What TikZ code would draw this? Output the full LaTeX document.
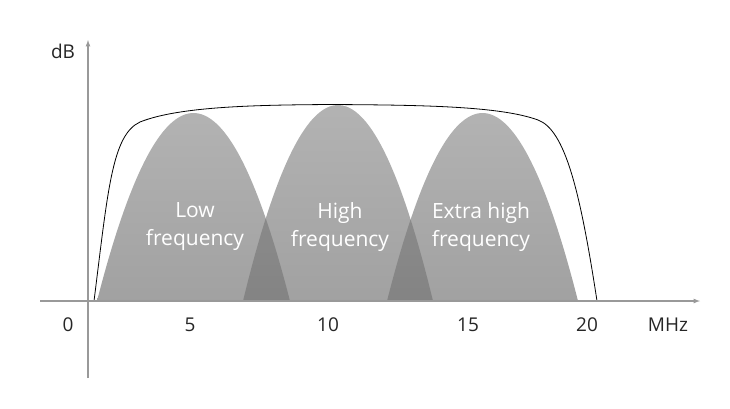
\documentclass[tikz,border=0pt]{standalone}
\usepackage{fontspec}
\setmainfont{Open Sans}
\begin{document}
\begin{tikzpicture}[x=1pt,y=-1pt,
  axis/.style={draw=gray!80,line width=1.2pt},
  lbl/.style={text=gray!30!black,font=\fontsize{19}{22}\selectfont},
  inlbl/.style={text=white,font=\fontsize{21}{28}\selectfont,align=center},
  hump/.style={top color=gray!60,bottom color=gray!95!black!70}]
\useasboundingbox (0,0) rectangle (730,408);
\def\hump#1#2#3{plot[domain=-1:1,samples=60,smooth] ({#1+#2*\x},{301-(301-#3)*(1-\x*\x)}) -- cycle}
% humps
\path[hump] \hump{193.5}{96.5}{113};
\path[hump] \hump{338}{95}{105};
\path[hump] \hump{482.5}{95.5}{113};
\begin{scope}
  \clip \hump{193.5}{96.5}{113};
  \fill[black,opacity=0.18] \hump{338}{95}{105};
\end{scope}
\begin{scope}
  \clip \hump{338}{95}{105};
  \fill[black,opacity=0.18] \hump{482.5}{95.5}{113};
\end{scope}
% envelope
\draw[line width=0.8pt] (94,301) .. controls (108,190) and (112,135) .. (140,122)
  .. controls (180,106) and (260,105) .. (330,104.5)
  .. controls (420,105) and (500,106) .. (538,120)
  .. controls (565,130) and (580,190) .. (597,301);
% axes
\coordinate (xs) at (40,301); \coordinate (xe) at (700,301);
\coordinate (ys) at (88,378); \coordinate (ye) at (88,40);
\draw[axis,-latex] (xs) -- (xe);
\draw[axis,-latex] (ys) -- (ye);
\node[lbl] (db) at (63,51) {dB};
\node[lbl] (t0) at (68,325) {0};
\node[lbl] (t5) at (190,325) {5};
\node[lbl] (t10) at (328,325) {10};
\node[lbl] (t15) at (468,325) {15};
\node[lbl] (t20) at (587,325) {20};
\node[lbl] (mhz) at (668,325) {MHz};
\node[inlbl] (l1) at (195,227) {Low\\frequency};
\node[inlbl] (l2) at (340,227) {High\\frequency};
\node[inlbl] (l3) at (481,227) {Extra high\\frequency};
\end{tikzpicture}
\end{document}
